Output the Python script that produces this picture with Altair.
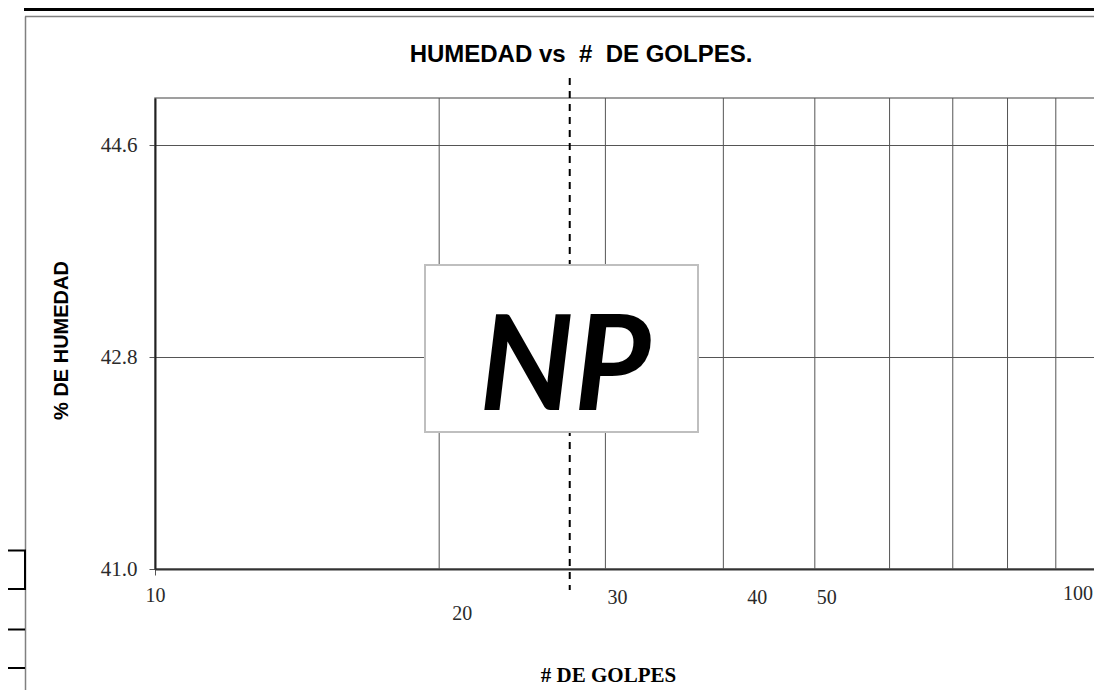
import altair as alt
import pandas as pd

# ---- data ----
x_domain = [10, 100]
y_domain = [41.0, 45.0]
y_ticks = [41.0, 42.8, 44.6]
x_axis_ticks = [10, 100]
x_grid_values = [20, 30, 40, 50, 60, 70, 80, 90]
x_extra_label_values = [20, 30, 40, 50, 100]
x_extra_labels = ["20", "30", "40", "50", "100"]
golpes_ref = [27.5]
np_label = ["NP"]
title_text = "HUMEDAD vs\u00a0\u00a0#\u00a0\u00a0DE GOLPES."
x_title = "# DE GOLPES"
y_title = "% DE HUMEDAD"

# ---- style-only offsets ----
x_label_dx = [23, 12, 34, 12, -6]
x_label_dy = [16, 0, 0, 0, -4]
x_label_align = ["center", "center", "center", "center", "right"]

W, H = 944, 471
SERIF = "Liberation Serif"
SANS = "Liberation Sans"

frame_df = pd.DataFrame({"golpes": x_domain, "humedad": y_domain})
grid_df = pd.DataFrame({"golpes": x_grid_values})
ref_df = pd.DataFrame({"golpes": golpes_ref})
one = pd.DataFrame({"k": [0]})

xscale = alt.Scale(type="log", domain=x_domain, nice=False)
yscale = alt.Scale(domain=y_domain, nice=False, zero=False)

base = alt.Chart(frame_df).mark_point(opacity=0).encode(
    x=alt.X("golpes:Q", scale=xscale, axis=alt.Axis(
        values=x_axis_ticks, format="d", grid=True, gridColor="#555555", gridWidth=1,
        tickSize=6, tickColor="#555555", domainColor="#333333", domainWidth=2,
        labelFont=SERIF, labelFontSize=20, labelColor="#2a2a2a", labelPadding=10,
        labelFlush=False, labelOverlap=False,
        labelExpr="datum.value >= 100 ? '' : datum.label",
        title=x_title, titleFont=SERIF, titleFontSize=21, titleFontWeight="bold",
        titleColor="#000000", titleX=453, titleY=106, titleBaseline="middle",
        titleAlign="center")),
    y=alt.Y("humedad:Q", scale=yscale, axis=alt.Axis(
        values=y_ticks, format=".1f", grid=True, gridColor="#555555", gridWidth=1,
        tickSize=6, tickColor="#555555", domainColor="#222222", domainWidth=2,
        labelFont=SERIF, labelFontSize=21, labelColor="#2a2a2a", labelPadding=12,
        title=y_title, titleFont=SANS, titleFontSize=20, titleFontWeight="bold",
        titleColor="#000000", titleX=-94, titleY=242, titleAngle=-90,
        titleBaseline="middle", titleAlign="center")),
)

grid = alt.Chart(grid_df).mark_rule(color="#555555", strokeWidth=1).encode(
    x=alt.X("golpes:Q", scale=xscale))

dashed = alt.Chart(ref_df).mark_rule(color="#000000", strokeWidth=2, strokeDash=[7, 6]).encode(
    x=alt.X("golpes:Q", scale=xscale), y=alt.value(-20), y2=alt.value(492))

box = alt.Chart(one).mark_rect(fill="white", stroke="#bfbfbf", strokeWidth=2).encode(
    x=alt.value(270), x2=alt.value(543), y=alt.value(167), y2=alt.value(334))

np_txt = alt.Chart(pd.DataFrame({"t": np_label})).mark_text(
    font="Lato", fontSize=132, fontWeight="bold", fontStyle="italic",
    align="center", baseline="alphabetic", color="#000000").encode(
    text="t:N", x=alt.value(410), y=alt.value(312))

title = alt.Chart(pd.DataFrame({"t": [title_text]})).mark_text(
    font=SANS, fontSize=24, fontWeight="bold", align="center", baseline="middle",
    color="#000000").encode(text="t:N", x=alt.value(426), y=alt.value(-43))

extra_labels = []
for v, lab, dx, dy, al in zip(x_extra_label_values, x_extra_labels, x_label_dx,
                              x_label_dy, x_label_align):
    extra_labels.append(
        alt.Chart(pd.DataFrame({"golpes": [v], "lab": [lab]})).mark_text(
            font=SERIF, fontSize=20, color="#2a2a2a", align=al, baseline="middle",
            dx=dx, dy=dy).encode(x=alt.X("golpes:Q", scale=xscale), y=alt.value(500), text="lab:N"))

# page decorations outside the plot
deco = [
    alt.Chart(one).mark_rule(color="#000000", strokeWidth=3).encode(
        x=alt.value(-131), x2=alt.value(960), y=alt.value(-88.5)),
    alt.Chart(one).mark_rule(color="#808080", strokeWidth=1.5).encode(
        x=alt.value(-130), x2=alt.value(960), y=alt.value(-81.5)),
    alt.Chart(one).mark_rule(color="#808080", strokeWidth=1.5).encode(
        x=alt.value(-129.5), y=alt.value(-81.5), y2=alt.value(620)),
    alt.Chart(one).mark_rect(fill="white", stroke="#000000", strokeWidth=2).encode(
        x=alt.value(-160), x2=alt.value(-130), y=alt.value(452.5), y2=alt.value(491)),
    alt.Chart(one).mark_rule(color="#000000", strokeWidth=2).encode(
        x=alt.value(-160), x2=alt.value(-130), y=alt.value(531.5)),
    alt.Chart(one).mark_rule(color="#000000", strokeWidth=2).encode(
        x=alt.value(-160), x2=alt.value(-130), y=alt.value(570)),
]

chart = alt.layer(base, grid, dashed, box, np_txt, title, *extra_labels, *deco).properties(
    width=W, height=H,
    autosize=alt.AutoSizeParams(type="none"),
    padding={"left": 147, "top": 90, "right": -5, "bottom": 121},
).configure_view(stroke="#808080", strokeWidth=1.5)

chart.save("out.html", embed_options={"renderer": "svg", "actions": False})
